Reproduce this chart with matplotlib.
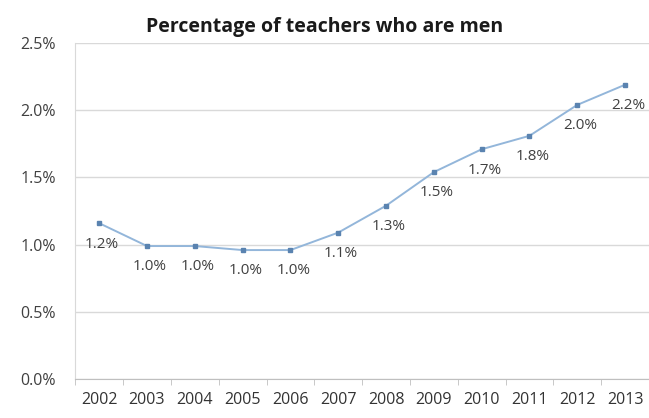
import matplotlib
matplotlib.use('Agg')
import matplotlib.pyplot as plt
from matplotlib.ticker import FuncFormatter

## DATA
years = ['2002', '2003', '2004', '2005', '2006', '2007',
         '2008', '2009', '2010', '2011', '2012', '2013']
pct_men = [1.16, 0.99, 0.99, 0.96, 0.96, 1.09, 1.29, 1.54, 1.71, 1.81, 2.04, 2.19]
y_ticks = [0.0, 0.5, 1.0, 1.5, 2.0, 2.5]

plt.rcParams['font.family'] = ['Open Sans', 'DejaVu Sans']

fig = plt.figure(figsize=(6.49, 4.18), dpi=100)
ax = fig.add_axes([0.116, 0.093, 0.884, 0.804])

xs = list(range(len(years)))
ax.plot(xs, pct_men, color='#93b6da', linewidth=1.4, zorder=3)
ax.plot(xs, pct_men, linestyle='none', marker='s', markersize=3.2,
        color='#5a83b0', zorder=4)

# data labels under each point
for x, v in zip(xs, pct_men):
    ax.annotate('{:.1f}%'.format(v), (x, v), xytext=(2, -15),
                textcoords='offset points', ha='center', va='center',
                fontsize=11, color='#404040')

ax.set_xlim(-0.5, len(years) - 0.5)
ax.set_ylim(0, 2.5)
ax.set_yticks(y_ticks)
ax.yaxis.set_major_formatter(FuncFormatter(lambda v, p: '{:.1f}%'.format(v)))
ax.set_xticks(xs)
ax.set_xticklabels(years)
ax.set_xticks([x + 0.5 for x in range(-1, len(years))], minor=True)

ax.grid(axis='y', color='#d9d9d9', linewidth=1)
ax.set_axisbelow(True)
ax.tick_params(axis='x', which='major', length=0, pad=9, labelsize=11.5, labelcolor='#333333')
ax.tick_params(axis='x', which='minor', length=4, color='#bfbfbf')
ax.tick_params(axis='y', length=0, pad=14, labelsize=11.5, labelcolor='#404040')

for s in ['top', 'right']:
    ax.spines[s].set_visible(False)
ax.spines['left'].set_color('#d9d9d9')
ax.spines['bottom'].set_color('#bfbfbf')

fig.text(0.5, 0.935, 'Percentage of teachers who are men', ha='center', va='center',
         fontsize=14, fontweight='bold', color='#1a1a1a')

fig.savefig('out.png', dpi=100)
